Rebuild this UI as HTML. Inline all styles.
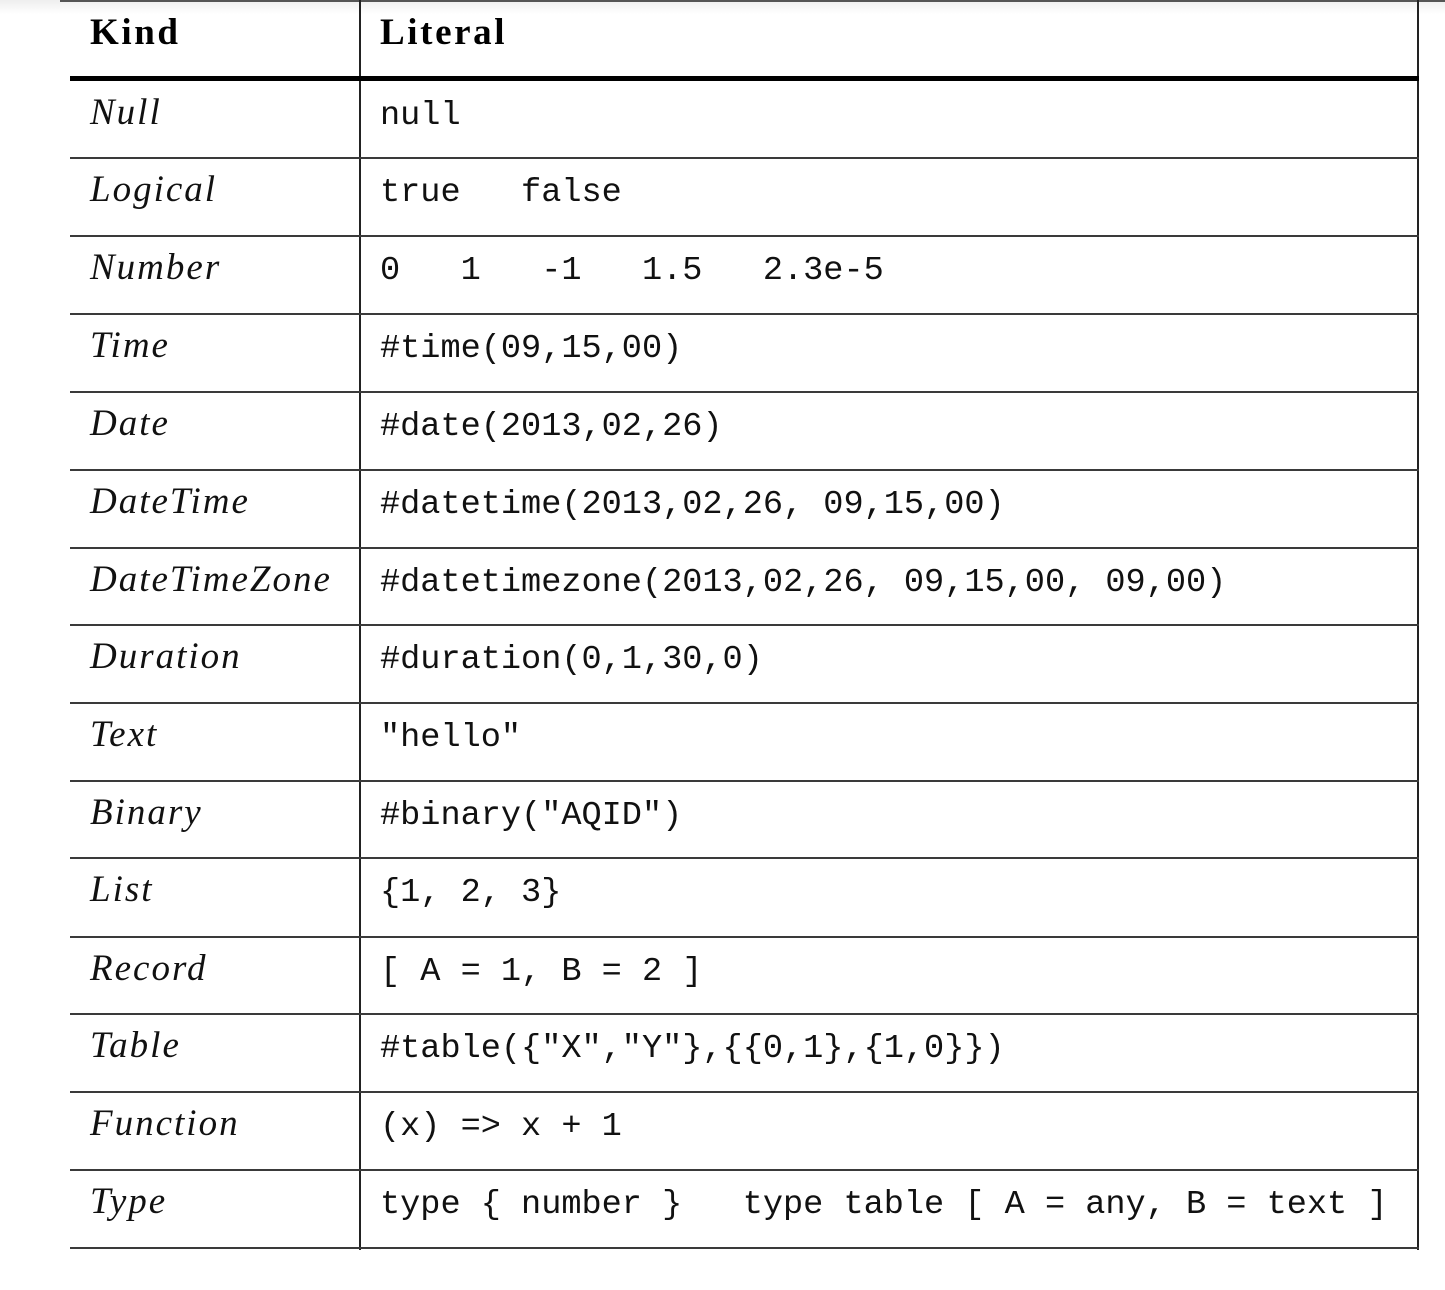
<!DOCTYPE html>
<html><head><meta charset="utf-8">
<style>
html,body{margin:0;padding:0;background:#fff;width:1445px;height:1290px;overflow:hidden;position:relative}
.hl{position:absolute;left:70px;width:1349px;height:2px;background:#3a3a3a}
.vl{position:absolute;top:0;width:2px;height:1250px;background:#222}
.k{position:absolute;left:90px;font-family:"Liberation Serif",serif;font-style:italic;font-size:37px;letter-spacing:2px;line-height:40px;color:#111;white-space:nowrap}
.c{position:absolute;left:380px;font-family:"Liberation Mono",monospace;font-size:33.6px;line-height:40px;color:#111;white-space:pre}
.h{position:absolute;top:13px;font-family:"Liberation Serif",serif;font-weight:bold;font-size:37px;letter-spacing:2.6px;line-height:40px;color:#000}
</style></head><body>
<div style="position:absolute;left:0;top:0;width:1445px;height:14px;background:linear-gradient(#eee,#fff)"></div>
<div style="position:absolute;left:60px;top:0;width:1385px;height:2px;background:#555"></div>
<div class="vl" style="left:359px"></div>
<div class="vl" style="left:1417px"></div>
<div class="h" style="left:90px">Kind</div>
<div class="h" style="left:380px">Literal</div>
<div style="position:absolute;left:70px;top:76px;width:1349px;height:5px;background:#000"></div>
<div id="rows"></div>
<script>
const kinds=["Null","Logical","Number","Time","Date","DateTime","DateTimeZone","Duration","Text","Binary","List","Record","Table","Function","Type"];
const literals=["null","true   false","0   1   -1   1.5   2.3e-5","#time(09,15,00)","#date(2013,02,26)","#datetime(2013,02,26, 09,15,00)","#datetimezone(2013,02,26, 09,15,00, 09,00)","#duration(0,1,30,0)","\"hello\"","#binary(\"AQID\")","{1, 2, 3}","[ A = 1, B = 2 ]","#table({\"X\",\"Y\"},{{0,1},{1,0}})","(x) => x + 1","type { number }   type table [ A = any, B = text ]"];
const rowTops=[81,158,236,314,392,470,548,625,703,781,858,937,1014,1092,1170];
const lines=[158,236,314,392,470,548,625,703,781,858,937,1014,1092,1170,1248];
const root=document.getElementById('rows');
kinds.forEach((k,i)=>{
  const a=document.createElement('div');a.className='k';a.style.top=(rowTops[i]+12)+'px';a.textContent=k;
  
  
  root.appendChild(a);
  const b=document.createElement('div');b.className='c';b.style.top=(rowTops[i]+15)+'px';b.textContent=literals[i];
  
  
  root.appendChild(b);
  const l=document.createElement('div');l.className='hl';l.style.top=(lines[i]-1)+'px';
  
  
  root.appendChild(l);
});
</script>
</body></html>
